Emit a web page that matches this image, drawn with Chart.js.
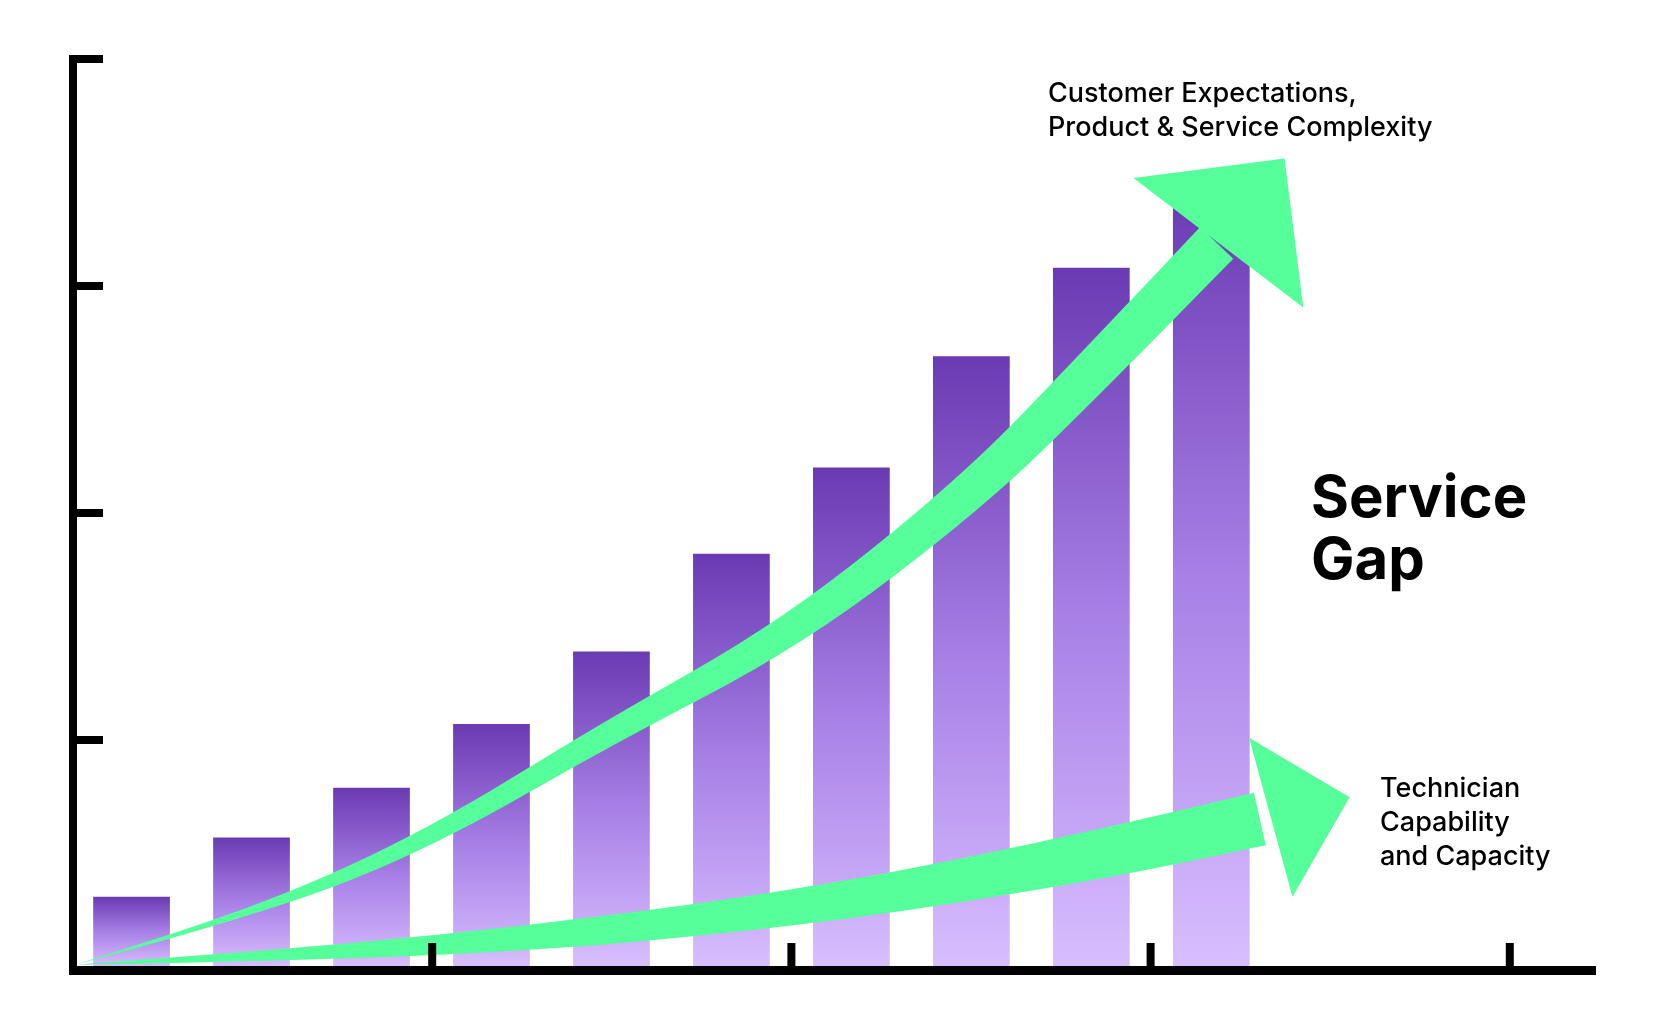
<!DOCTYPE html>
<html>
<head>
<meta charset="utf-8">
<script src="https://cdn.jsdelivr.net/npm/chart.js@4"></script>
<style>
  html, body { margin: 0; padding: 0; background: #fff; }
  #wrap { width: 1675px; height: 1023px; }
</style>
</head>
<body>
<div id="wrap"><canvas id="gap"></canvas></div>
<script>
// bar data (x in axis units, heights in axis units)
const barX = [0.163, 0.497, 0.831, 1.165, 1.499, 1.833, 2.167, 2.501, 2.835, 3.169];
const barValues = [0.31, 0.57, 0.79, 1.07, 1.39, 1.82, 2.2, 2.69, 3.08, 3.42];
const xTicks = [0, 1, 2, 3, 4];
const yTicks = [0, 1, 2, 3, 4];

// arrow centre lines (axis units) and half widths (px)
const upperLine = [[0.006, 0.01], [0.548, 0.262], [1.0, 0.571], [1.482, 1.024], [2.009, 1.476], [2.506, 2.095], [2.807, 2.571], [3.184, 3.19]];
const upperWidth = [0, 5, 9, 12, 16, 19, 21, 23];
const upperHead = [[2.952, 3.476], [3.373, 3.562], [3.425, 2.905]];
const lowerLine = [[0.006, 0.01], [1.0, 0.081], [2.009, 0.252], [2.807, 0.476], [3.304, 0.652]];
const lowerWidth = [0, 11, 18, 24, 27];
const lowerHead = [[3.274, 1.01], [3.554, 0.748], [3.395, 0.31]];

const green = '#55FF99';

function drawArrow(ctx, xs, ys, line, widths, head) {
  const pts = line.map(p => [xs.getPixelForValue(p[0]), ys.getPixelForValue(p[1])]);
  const left = [], right = [];
  pts.forEach((p, i) => {
    const a = pts[Math.max(i - 1, 0)], b = pts[Math.min(i + 1, pts.length - 1)];
    let dx = b[0] - a[0], dy = b[1] - a[1];
    const len = Math.hypot(dx, dy) || 1;
    const nx = -dy / len, ny = dx / len;
    left.push([p[0] + nx * widths[i], p[1] + ny * widths[i]]);
    right.push([p[0] - nx * widths[i], p[1] - ny * widths[i]]);
  });
  const smooth = (arr, first) => {
    if (first) ctx.moveTo(arr[0][0], arr[0][1]); else ctx.lineTo(arr[0][0], arr[0][1]);
    for (let i = 1; i < arr.length - 1; i++) {
      const mx = (arr[i][0] + arr[i + 1][0]) / 2, my = (arr[i][1] + arr[i + 1][1]) / 2;
      ctx.quadraticCurveTo(arr[i][0], arr[i][1], mx, my);
    }
    ctx.lineTo(arr[arr.length - 1][0], arr[arr.length - 1][1]);
  };
  ctx.fillStyle = green;
  ctx.beginPath();
  smooth(left, true);
  smooth(right.slice().reverse(), false);
  ctx.closePath();
  ctx.fill();
  ctx.beginPath();
  head.forEach((p, i) => {
    const x = xs.getPixelForValue(p[0]), y = ys.getPixelForValue(p[1]);
    if (i === 0) ctx.moveTo(x, y); else ctx.lineTo(x, y);
  });
  ctx.closePath();
  ctx.fill();
}

const overlay = {
  id: 'overlay',
  afterDatasetsDraw(chart) {
    const ctx = chart.ctx, xs = chart.scales.x, ys = chart.scales.y;
    ctx.save();
    drawArrow(ctx, xs, ys, lowerLine, lowerWidth, lowerHead);
    drawArrow(ctx, xs, ys, upperLine, upperWidth, upperHead);

    // axes
    ctx.fillStyle = '#000';
    const x0 = xs.getPixelForValue(0), y0 = ys.getPixelForValue(0);
    const yTop = ys.getPixelForValue(4), xEnd = xs.getPixelForValue(4.24);
    ctx.fillRect(x0 - 4, yTop - 4, 8, y0 - yTop + 8);
    ctx.fillRect(x0 - 4, y0 - 1, xEnd - x0 + 4, 9);
    yTicks.forEach(v => {
      const y = ys.getPixelForValue(v);
      if (v > 0) ctx.fillRect(x0, y - 4, 30, 8);
    });
    xTicks.forEach(v => {
      const x = xs.getPixelForValue(v);
      if (v > 0) ctx.fillRect(x - 4, y0 - 24, 8, 26);
    });

    // labels
    ctx.textBaseline = 'middle';
    ctx.textAlign = 'left';
    ctx.font = '500 27px Inter';
    ctx.fillText('Customer Expectations,', 1048, 94);
    ctx.fillText('Product & Service Complexity', 1048, 128);
    ctx.fillText('Technician', 1380, 789);
    ctx.fillText('Capability', 1380, 823);
    ctx.fillText('and Capacity', 1380, 857);
    ctx.font = 'bold 58px Inter';
    ctx.fillText('Service', 1311, 500);
    ctx.fillText('Gap', 1311, 562);
    ctx.restore();
  }
};

function barFill(c) {
  const chart = c.chart;
  if (!chart.chartArea) return '#9a6ad8';
  const ys = chart.scales.y;
  const v = barValues[c.dataIndex];
  const top = ys.getPixelForValue(v), bot = ys.getPixelForValue(0);
  const g = chart.ctx.createLinearGradient(0, top, 0, bot);
  g.addColorStop(0, '#6A3AB2');
  g.addColorStop(0.5, '#A880E6');
  g.addColorStop(1, '#D8BEFF');
  return g;
}

new Chart(document.getElementById('gap'), {
  type: 'bar',
  data: {
    datasets: [{
      data: barX.map((x, i) => ({ x: x, y: barValues[i] })),
      backgroundColor: barFill,
      borderWidth: 0,
      barPercentage: 0.89,
      categoryPercentage: 1
    }]
  },
  options: {
    responsive: true,
    maintainAspectRatio: false,
    animation: false,
    layout: { padding: { left: 73, top: 59, right: 79, bottom: 56 } },
    plugins: { legend: { display: false }, tooltip: { enabled: false } },
    scales: {
      x: { type: 'linear', min: 0, max: 4.24, offset: false, display: false },
      y: { min: 0, max: 4, display: false }
    }
  },
  plugins: [overlay]
});
</script>
</body>
</html>
